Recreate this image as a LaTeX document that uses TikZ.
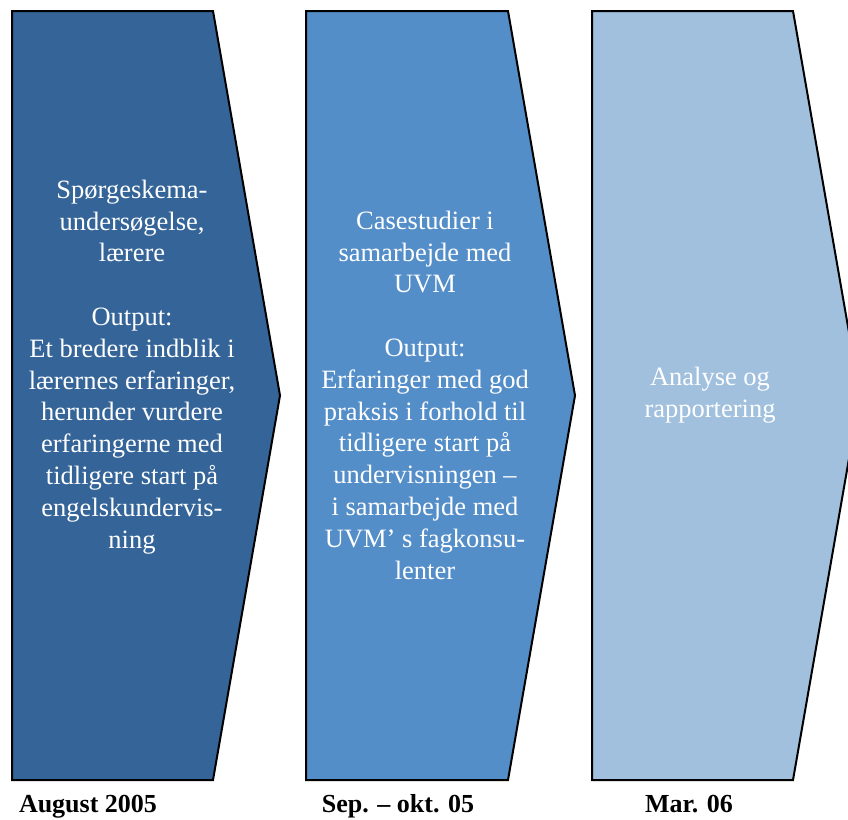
\documentclass[tikz,border=0pt]{standalone}
\usepackage{fontspec}
\setmainfont{Liberation Serif}
\definecolor{cA}{RGB}{52,100,152}
\definecolor{cB}{RGB}{84,142,200}
\definecolor{cC}{RGB}{160,192,222}
\tikzset{
  chevron/.style={draw=black, line width=2pt, line join=miter},
  txt/.style={text=white, align=center, inner sep=0pt, font=\fontsize{26.5}{31.8}\selectfont},
  datelbl/.style={text=black, inner sep=0pt, font=\fontsize{26}{31}\selectfont\bfseries},
}
\begin{document}
\begin{tikzpicture}[x=1pt,y=-1pt]
\useasboundingbox (0,0) rectangle (848,819);
\clip (0,0) rectangle (848,819);
\fill[cA] (12,11) -- (213,11) -- (280,395.5) -- (213,780) -- (12,780) -- cycle;
\draw[chevron] (12,11) -- (213,11) -- (280,395.5) -- (213,780) -- (12,780) -- cycle;
\fill[cB] (306,11) -- (508,11) -- (575,395.5) -- (508,780) -- (306,780) -- cycle;
\draw[chevron] (306,11) -- (508,11) -- (575,395.5) -- (508,780) -- (306,780) -- cycle;
\fill[cC] (592,11) -- (793,11) -- (860,395.5) -- (793,780) -- (592,780) -- cycle;
\draw[chevron] (592,11) -- (793,11) -- (860,395.5) -- (793,780) -- (592,780) -- cycle;

\node[txt, anchor=base] (t1) at (132,548) {Spørgeskema-\\undersøgelse,\\lærere\\\mbox{}\\Output:\\Et bredere indblik i\\lærernes erfaringer,\\herunder vurdere\\erfaringerne med\\tidligere start på\\engelskundervis-\\ning};
\node[txt, anchor=base] (t2) at (425,579) {Casestudier i\\samarbejde med\\UVM\\\mbox{}\\Output:\\Erfaringer med god\\praksis i forhold til\\tidligere start på\\undervisningen –\\i samarbejde med\\UVM’ s fagkonsu-\\lenter};
\node[txt, anchor=base] (t3) at (710,417) {Analyse og\\rapportering};

\node[datelbl, anchor=base] (d1) at (88,812) {August 2005};
\node[datelbl, anchor=base] (d2) at (398,812) {Sep. – okt. 05};
\node[datelbl, anchor=base] (d3) at (689,812) {Mar. 06};
\end{tikzpicture}
\end{document}
